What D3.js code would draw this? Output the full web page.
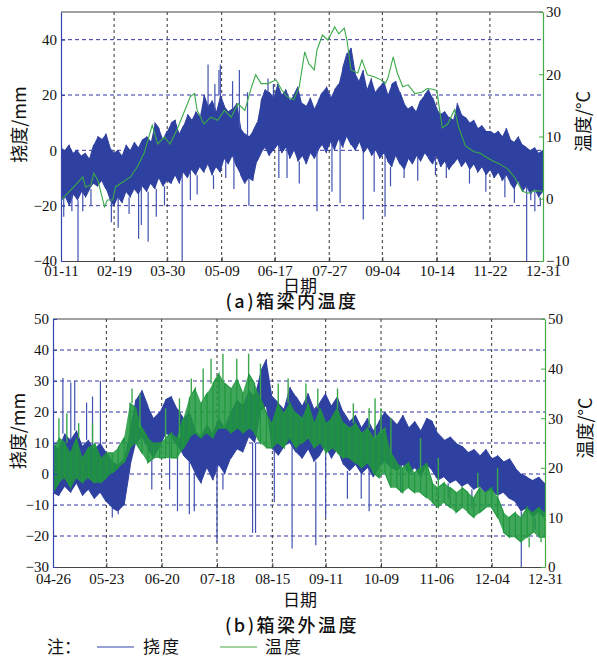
<!DOCTYPE html>
<html>
<head>
<meta charset="utf-8">
<script src="https://cdn.jsdelivr.net/npm/d3@7"></script>
<style>
    body { margin: 0; background: #fff; }
    svg text { font-family: "Liberation Serif", "DejaVu Serif", serif; fill: #111; }
    svg text.cjk { font-family: "Noto Sans CJK SC", sans-serif; }
</style>
</head>
<body>
<div id="chart"></div>
<script>
const DAY = 864e5;
const parseDate = d3.timeParse("%Y-%m-%d");

// ---------- (a) inside the box girder ----------
const aStart = "2013-01-11", aEnd = "2013-12-31";
const aTicks = ["01-11", "02-19", "03-30", "05-09", "06-17", "07-27", "09-04", "10-14", "11-22", "12-31"];
const aStep = 3; // days between envelope samples
// deflection envelope (mm), top / bottom of the dense band
const aDefHi = [1, 0, 2, -1, 0, -2, -1, -3, 2, 5,
    4, 6, 1, -1, 0, -2, 2, 0, 3, 1,
    4, 5, 3, 10, 8, 4, 7, 10, 11, 6,
    9, 13, 11, 14, 12, 20, 16, 18, 14, 20,
    16, 14, 15, 17, 8, 6, 5, 7, 10, 18,
    22, 21, 19, 24, 20, 22, 18, 20, 23, 17,
    16, 19, 15, 18, 21, 23, 19, 22, 24, 30,
    35, 37, 28, 25, 29, 22, 26, 21, 23, 25,
    20, 24, 25, 21, 17, 15, 16, 14, 18, 20,
    22, 19, 15, 13, 14, 12, 11, 17, 13, 12,
    10, 11, 8, 9, 7, 7, 6, 7, 5, 8,
    4, 3, 5, 2, 1, 0, 1, -1, 0];
const aDefLo = [-18, -17, -20, -16, -18, -15, -17, -14, -12, -13,
    -11, -14, -18, -20, -17, -19, -15, -17, -14, -16,
    -13, -15, -12, -14, -10, -13, -11, -12, -9, -12,
    -8, -10, -7, -9, -6, -8, -5, -9, -6, -8,
    -3, -5, -2, -6, -9, -12, -10, -11, -4, -1,
    1, -2, 0, 2, -1, 1, -3, 0, -4, -2,
    -5, -1, -3, 0, 2, -1, 3, 0, 4, 1,
    5, 2, 0, 3, -1, 1, -2, 0, -3, -1,
    -4, -6, -2, -5, -7, -3, -5, -2, -4, -1,
    -3, -5, -2, -6, -4, -7, -5, -3, -6, -4,
    -7, -5, -8, -6, -9, -7, -10, -8, -11, -9,
    -12, -14, -11, -15, -13, -16, -14, -17, -15];
// isolated spikes [day, mm]
const aSpikes = [[2, -24], [8, -22], [12.5, -40], [16, -22], [22, -20], [37, -26], [42, -28], [50, -23],
    [57, -32], [59, -27], [64, -33], [70, -24], [76, -20], [89, -40], [95, -18], [100, -16], [112, -14],
    [121, -10], [127, -14], [138, -20], [160, -10], [166, -10], [175, -12], [188, -22], [199, -15],
    [205, -19], [222, -25], [230, -15], [238, -24], [242, -13], [252, -10], [262, -11], [275, -9],
    [283, -10], [300, -12], [312, -15], [326, -17], [333, -19], [342, -40], [345, -18], [348, -22], [352, -20],
    [108, 31], [113, 24], [116, 29], [117, 31], [126, 25], [131, 29], [137, 21], [152, 26], [156, 24]];
// temperature inside (°C)
const aTempDay = [0, 5, 12, 16, 18, 22, 24, 27, 32, 34, 38, 40, 44, 51, 56, 61, 67, 71, 76, 80,
    85, 90, 95, 98, 100, 105, 110, 115,
    120, 125, 130, 135, 140, 143, 147, 152, 158, 162, 166, 171, 175, 179, 182, 186, 188, 192, 196, 201,
    204, 208, 210, 213, 218, 221, 225, 230, 235,
    238, 240, 244, 247, 251, 255, 260, 265, 269, 273, 276, 280, 284, 289, 292, 297, 303, 308, 313, 318,
    322, 328, 333, 339, 343, 348, 354];
const aTemp = [-0.2, 0.9, 2.5, 3.5, 1.9, 2.2, 4.1, 3.0, -1.3, -0.2, -0.2, 1.9, 2.5, 3.5, 5.1, 7.3, 11.8, 8.8, 9.9, 8.8,
    11.0, 13.7, 16.4, 16.9, 14.2, 12.0, 13.1, 12.6,
    14.2, 13.1, 15.3, 14.2, 18.0, 19.9, 18.5, 18.5, 19.1, 17.5, 16.4, 15.9, 18.0, 23.6, 21.7, 20.7, 23.9, 26.3, 25.5, 27.6,
    26.5, 27.4, 25.5, 20.7, 20.2, 22.3, 19.9, 19.6, 19.1,
    18.5, 19.3, 22.8, 20.2, 18.0, 18.3, 16.9, 17.1, 17.7, 17.6, 17.4, 11.4, 12.0, 14.3, 11.5, 8.5, 7.6, 7.3, 6.6, 6.0,
    5.6, 4.8, 3.5, 1.2, 0.9, 1.3, 1.2];

// ---------- (b) outside the box girder ----------
const bStart = "2013-04-26", bEnd = "2013-12-31";
const bTicks = ["04-26", "05-23", "06-20", "07-18", "08-15", "09-11", "10-09", "11-06", "12-04", "12-31"];
const bStep = 3;
const bDefHi = [10, 8, 13, 11, 14, 9, 11, 8, 10, 7,
    4, 3, 5, 14, 24, 27, 22, 18, 20, 24,
    25, 21, 18, 20, 14, 12, 16, 13, 18, 15,
    20, 24, 22, 27, 25, 33, 37, 25, 23, 21,
    28, 25, 22, 26, 21, 23, 26, 22, 25, 20,
    17, 19, 15, 18, 14, 17, 20, 18, 16, 19,
    15, 17, 14, 18, 17, 13, 11, 12, 10, 9,
    7, 8, 6, 8, 5, 6, 4, 5, 2, 0,
    -1, -2, -1, -3];
const bDefLo = [-6, -7, -4, -6, -3, -7, -5, -8, -6, -9,
    -11, -12, -10, 2, 10, 12, 8, 5, 9, 13,
    12, 9, 6, 4, 0, -3, 2, -2, 3, 0,
    5, 8, 7, 12, 10, 20, 22, 8, 6, 9,
    10, 7, 5, 8, 4, 6, 9, 5, 8, 3,
    1, 3, 0, 2, -1, 2, 4, 2, 1, 3,
    0, 2, -1, 3, 1, -2, -1, -3, -2, -4,
    -3, -5, -4, -6, -5, -7, -6, -8, -9, -12,
    -11, -14, -12, -15];
const bSpikes = [[5, 31], [9, 29.5], [11, 30], [17, 23], [20, 25], [24, 30], [30, -14], [33, -13],
    [50, -5], [59, -5], [63, -12], [69, -13], [71.5, -12], [83, -22], [86, -5], [101, -19], [102.5, -19],
    [112, -9], [121, -24], [133, -23], [138, -14], [149, -8], [156, -8], [160, -12], [176, -6],
    [200, -8], [212, -11], [225, -13], [237, -30], [244, -18]];
// temperature outside (°C), top / bottom of the daily swing
const bTempHi = [24, 26, 25, 23, 26, 22, 24, 25, 22, 23,
    23, 24, 26, 33, 32, 28, 26, 25, 25, 26,
    27, 26, 30, 34, 36, 33, 35, 37, 39, 37,
    36, 38, 35, 39, 37, 34, 31, 29, 33, 31,
    33, 31, 30, 33, 29, 32, 29, 30, 32, 29,
    28, 29, 27, 28, 26, 27, 28, 23, 21, 20,
    21, 19, 20, 21, 17, 16, 17, 16, 15, 16,
    15, 14, 16, 15, 16, 14, 11, 10, 11, 10,
    12, 11, 12, 11];
const bTempLo = [15, 17, 18, 16, 18, 17, 18, 17, 17, 18,
    19, 20, 21, 24, 25, 23, 21, 22, 22, 22,
    22, 22, 24, 26, 27, 26, 27, 26, 28, 28,
    27, 28, 27, 28, 27, 25, 24, 24, 25, 24,
    26, 24, 25, 26, 24, 25, 23, 24, 23, 22,
    22, 21, 20, 21, 19, 18, 19, 16, 16, 15,
    16, 15, 15, 14, 13, 12, 13, 12, 11, 12,
    11, 10, 11, 12, 12, 10, 7, 6, 6, 5,
    6, 7, 6, 6];
const bTempSpikes = [[3, 30], [7, 31], [13, 29], [20, 29], [40, 36], [44, 35], [57, 32], [64, 34],
    [70, 38], [76, 40], [80, 42], [86, 43], [93, 42], [99, 43], [105, 41], [114, 37], [119, 38],
    [128, 37], [134, 36], [144, 36], [152, 33], [160, 32], [163, 34], [166, 32], [171, 30],
    [186, 26], [195, 22], [215, 19], [225, 20], [241, 4], [247, 5]];

const defColor = "#2f41a0";
const spikeColor = "#4252b0";
const tempColor = "#3aaa48";
const tempBandColor = "#1f983d";

class DualAxisChart {
    constructor(svg, opts) {
        this.svg = svg;
        this.opts = opts;
        this.initVis();
    }

    initVis() {
        let vis = this;
        let o = vis.opts;

        vis.margin = o.margin;
        vis.width = o.width;
        vis.height = o.height;

        vis.g = vis.svg.append("g")
            .attr("transform", "translate(" + vis.margin.left + "," + vis.margin.top + ")");

        vis.start = parseDate(o.start);
        vis.xScale = d3.scaleTime()
            .domain([vis.start, parseDate(o.end)])
            .range([0, vis.width]);
        vis.yLeft = d3.scaleLinear().domain(o.leftDomain).range([vis.height, 0]);
        vis.yRight = d3.scaleLinear().domain(o.rightDomain).range([vis.height, 0]);

        vis.tickDates = o.ticks.map(t => parseDate("2013-" + t));

        vis.g.append("clipPath").attr("id", o.id + "-clip")
            .append("rect").attr("width", vis.width).attr("height", vis.height);

        vis.wrangleData();
    }

    dayToDate(day) {
        return new Date(this.start.getTime() + day * DAY);
    }

    // spikes start at the edge of the band they stick out of
    toSpikes(list, band) {
        let vis = this;
        return list.map(s => {
            let b = band[Math.min(band.length - 1, Math.round(s[0] / vis.opts.step))];
            return {date: vis.dayToDate(s[0]), from: s[1] < b.lo ? b.lo : b.hi, to: s[1]};
        });
    }

    wrangleData() {
        let vis = this;
        let o = vis.opts;

        vis.band = o.defHi.map((hi, i) => ({date: vis.dayToDate(i * o.step), hi: hi, lo: o.defLo[i]}));
        vis.spikes = vis.toSpikes(o.spikes, vis.band);

        if (o.tempHi) {
            vis.tempBand = o.tempHi.map((hi, i) => ({date: vis.dayToDate(i * o.step), hi: hi, lo: o.tempLo[i]}));
            vis.tempSpikes = vis.toSpikes(o.tempSpikes, vis.tempBand);
        } else {
            vis.tempLine = o.tempDay.map((d, i) => ({date: vis.dayToDate(d), t: o.temp[i]}));
        }

        vis.updateVis();
    }

    // outline plus one vertical stroke per sample, gives the look of dense noisy records
    zigzag(band, y) {
        let vis = this;
        let pts = [];
        band.forEach((d, i) => {
            let x = vis.xScale(d.date);
            if (i % 2 === 0) { pts.push([x, y(d.hi)], [x, y(d.lo)]); }
            else { pts.push([x, y(d.lo)], [x, y(d.hi)]); }
        });
        return d3.line()(pts);
    }

    updateVis() {
        let vis = this;
        let o = vis.opts;

        // grid
        vis.g.selectAll(".hgrid")
            .data(o.gridValues)
            .enter()
            .append("line")
            .attr("class", "hgrid")
            .attr("x1", 0)
            .attr("x2", vis.width)
            .attr("y1", d => vis.yLeft(d))
            .attr("y2", d => vis.yLeft(d))
            .attr("stroke", "#3434a6")
            .attr("stroke-dasharray", "4,3");

        vis.g.selectAll(".vgrid")
            .data(vis.tickDates.slice(1, -1))
            .enter()
            .append("line")
            .attr("class", "vgrid")
            .attr("x1", d => vis.xScale(d))
            .attr("x2", d => vis.xScale(d))
            .attr("y1", 0)
            .attr("y2", vis.height)
            .attr("stroke", "#333")
            .attr("stroke-dasharray", "3,3");

        vis.plot = vis.g.append("g").attr("clip-path", "url(#" + o.id + "-clip)");

        // deflection
        let area = d3.area()
            .x(d => vis.xScale(d.date))
            .y0(d => vis.yLeft(d.lo))
            .y1(d => vis.yLeft(d.hi));

        vis.plot.append("path")
            .datum(vis.band)
            .attr("d", area)
            .attr("fill", defColor);

        vis.plot.append("path")
            .attr("d", vis.zigzag(vis.band, vis.yLeft))
            .attr("fill", "none")
            .attr("stroke", defColor)
            .attr("stroke-width", 1);

        vis.plot.selectAll(".spike")
            .data(vis.spikes)
            .enter()
            .append("line")
            .attr("class", "spike")
            .attr("x1", d => vis.xScale(d.date))
            .attr("x2", d => vis.xScale(d.date))
            .attr("y1", d => vis.yLeft(d.from))
            .attr("y2", d => vis.yLeft(d.to))
            .attr("stroke", spikeColor)
            .attr("stroke-width", 1.2);

        // temperature
        if (vis.tempBand) {
            let tArea = d3.area()
                .x(d => vis.xScale(d.date))
                .y0(d => vis.yRight(d.lo))
                .y1(d => vis.yRight(d.hi));
            vis.plot.append("path")
                .datum(vis.tempBand)
                .attr("d", tArea)
                .attr("fill", tempBandColor)
                .attr("fill-opacity", 0.85);
            vis.plot.append("path")
                .attr("d", vis.zigzag(vis.tempBand, vis.yRight))
                .attr("fill", "none")
                .attr("stroke", tempBandColor)
                .attr("stroke-width", 1.2);
            vis.plot.selectAll(".tspike")
                .data(vis.tempSpikes)
                .enter()
                .append("line")
                .attr("class", "tspike")
                .attr("x1", d => vis.xScale(d.date))
                .attr("x2", d => vis.xScale(d.date))
                .attr("y1", d => vis.yRight(d.from))
                .attr("y2", d => vis.yRight(d.to))
                .attr("stroke", "#3aa84a")
                .attr("stroke-width", 1.4);
        } else {
            let line = d3.line()
                .x(d => vis.xScale(d.date))
                .y(d => vis.yRight(d.t));
            vis.plot.append("path")
                .datum(vis.tempLine)
                .attr("d", line)
                .attr("fill", "none")
                .attr("stroke", tempColor)
                .attr("stroke-width", 1.1);
        }

        // frame top
        vis.g.append("line")
            .attr("x1", 0).attr("x2", vis.width)
            .attr("y1", 0).attr("y2", 0)
            .attr("stroke", "#444");

        // axes
        let xAxis = d3.axisBottom(vis.xScale)
            .tickValues(vis.tickDates)
            .tickFormat(d3.timeFormat("%m-%d"))
            .tickSizeInner(-4)
            .tickSizeOuter(0)
            .tickPadding(o.xPad);
        let gx = vis.g.append("g")
            .attr("transform", `translate(0, ${vis.height})`)
            .call(xAxis);
        gx.select(".domain").attr("stroke", "#444");
        gx.selectAll(".tick line").attr("stroke", "#444");

        let yAxisL = d3.axisLeft(vis.yLeft)
            .tickValues(o.leftTicks)
            .tickSizeInner(-4)
            .tickSizeOuter(0)
            .tickPadding(4);
        let gl = vis.g.append("g").call(yAxisL);
        gl.select(".domain").attr("stroke", "#3344aa").attr("stroke-width", 1.2);
        gl.selectAll(".tick line").attr("stroke", "#3344aa");

        let yAxisR = d3.axisRight(vis.yRight)
            .tickValues(o.rightTicks)
            .tickSizeInner(-4)
            .tickSizeOuter(0)
            .tickPadding(3);
        let gr = vis.g.append("g")
            .attr("transform", `translate(${vis.width}, 0)`)
            .call(yAxisR);
        gr.select(".domain").attr("stroke", "#44aa44").attr("stroke-width", 1.2);
        gr.selectAll(".tick line").attr("stroke", "#44aa44");

        vis.g.selectAll(".tick text")
            .attr("font-family", "Liberation Serif, serif")
            .attr("font-size", 15)
            .attr("fill", "#111");

        // axis titles
        vis.g.append("text")
            .attr("class", "cjk")
            .attr("transform", `translate(${o.leftTitleX}, ${vis.height / 2 - 12}) rotate(-90)`)
            .attr("text-anchor", "middle")
            .attr("dy", "0.35em")
            .attr("font-size", 18)
            .text("挠度/mm");

        vis.g.append("text")
            .attr("class", "cjk")
            .attr("transform", `translate(${vis.width + 41}, ${vis.height / 2 - 15}) rotate(-90)`)
            .attr("text-anchor", "middle")
            .attr("dy", "0.35em")
            .attr("font-size", 18)
            .text("温度/°C");

        vis.g.append("text")
            .attr("class", "cjk")
            .attr("x", 300 - vis.margin.left)
            .attr("y", vis.height + o.dateY)
            .attr("text-anchor", "middle")
            .attr("dy", "0.35em")
            .attr("font-size", 17)
            .text("日期");

        vis.g.append("text")
            .attr("class", "cjk")
            .attr("x", 292 - vis.margin.left)
            .attr("y", vis.height + o.titleY)
            .attr("text-anchor", "middle")
            .attr("dy", "0.35em")
            .attr("font-size", 18)
            .attr("letter-spacing", 2.5)
            .attr("font-weight", 500)
            .text(o.title);
    }
}

let svg = d3.select("#chart").append("svg")
    .attr("width", 597)
    .attr("height", 657);

new DualAxisChart(svg, {
    id: "a",
    margin: {left: 61, top: 12},
    width: 482, height: 249,
    start: aStart, end: aEnd, ticks: aTicks, step: aStep,
    leftDomain: [-40, 50], leftTicks: [-40, -20, 0, 20, 40], gridValues: [-20, 0, 20, 40],
    rightDomain: [-10, 30], rightTicks: [-10, 0, 10, 20, 30],
    defHi: aDefHi, defLo: aDefLo, spikes: aSpikes,
    tempDay: aTempDay, temp: aTemp,
    leftTitleX: -41, xPad: 4, dateY: 25, titleY: 41,
    title: "(a)箱梁内温度"
});

new DualAxisChart(svg, {
    id: "b",
    margin: {left: 53, top: 319},
    width: 492, height: 248,
    start: bStart, end: bEnd, ticks: bTicks, step: bStep,
    leftDomain: [-30, 50], leftTicks: [-30, -20, -10, 0, 10, 20, 30, 40, 50],
    gridValues: [-20, -10, 0, 10, 20, 30, 40],
    rightDomain: [0, 50], rightTicks: [0, 10, 20, 30, 40, 50],
    defHi: bDefHi, defLo: bDefLo, spikes: bSpikes,
    tempHi: bTempHi, tempLo: bTempLo, tempSpikes: bTempSpikes,
    leftTitleX: -34, xPad: 6, dateY: 33, titleY: 59,
    title: "(b)箱梁外温度"
});

// legend
let legend = svg.append("g").attr("transform", "translate(0, 647)");
legend.append("text").attr("class", "cjk").attr("x", 47).attr("dy", "0.35em")
    .attr("font-size", 17).text("注：");
legend.append("line").attr("x1", 97).attr("x2", 134).attr("stroke", "#3344aa").attr("stroke-width", 1.2);
legend.append("text").attr("class", "cjk").attr("x", 143).attr("dy", "0.35em")
    .attr("font-size", 17).attr("letter-spacing", 2).text("挠度");
legend.append("line").attr("x1", 220).attr("x2", 257).attr("stroke", "#44aa44").attr("stroke-width", 1.2);
legend.append("text").attr("class", "cjk").attr("x", 265).attr("dy", "0.35em")
    .attr("font-size", 17).attr("letter-spacing", 2).text("温度");
</script>
</body>
</html>
